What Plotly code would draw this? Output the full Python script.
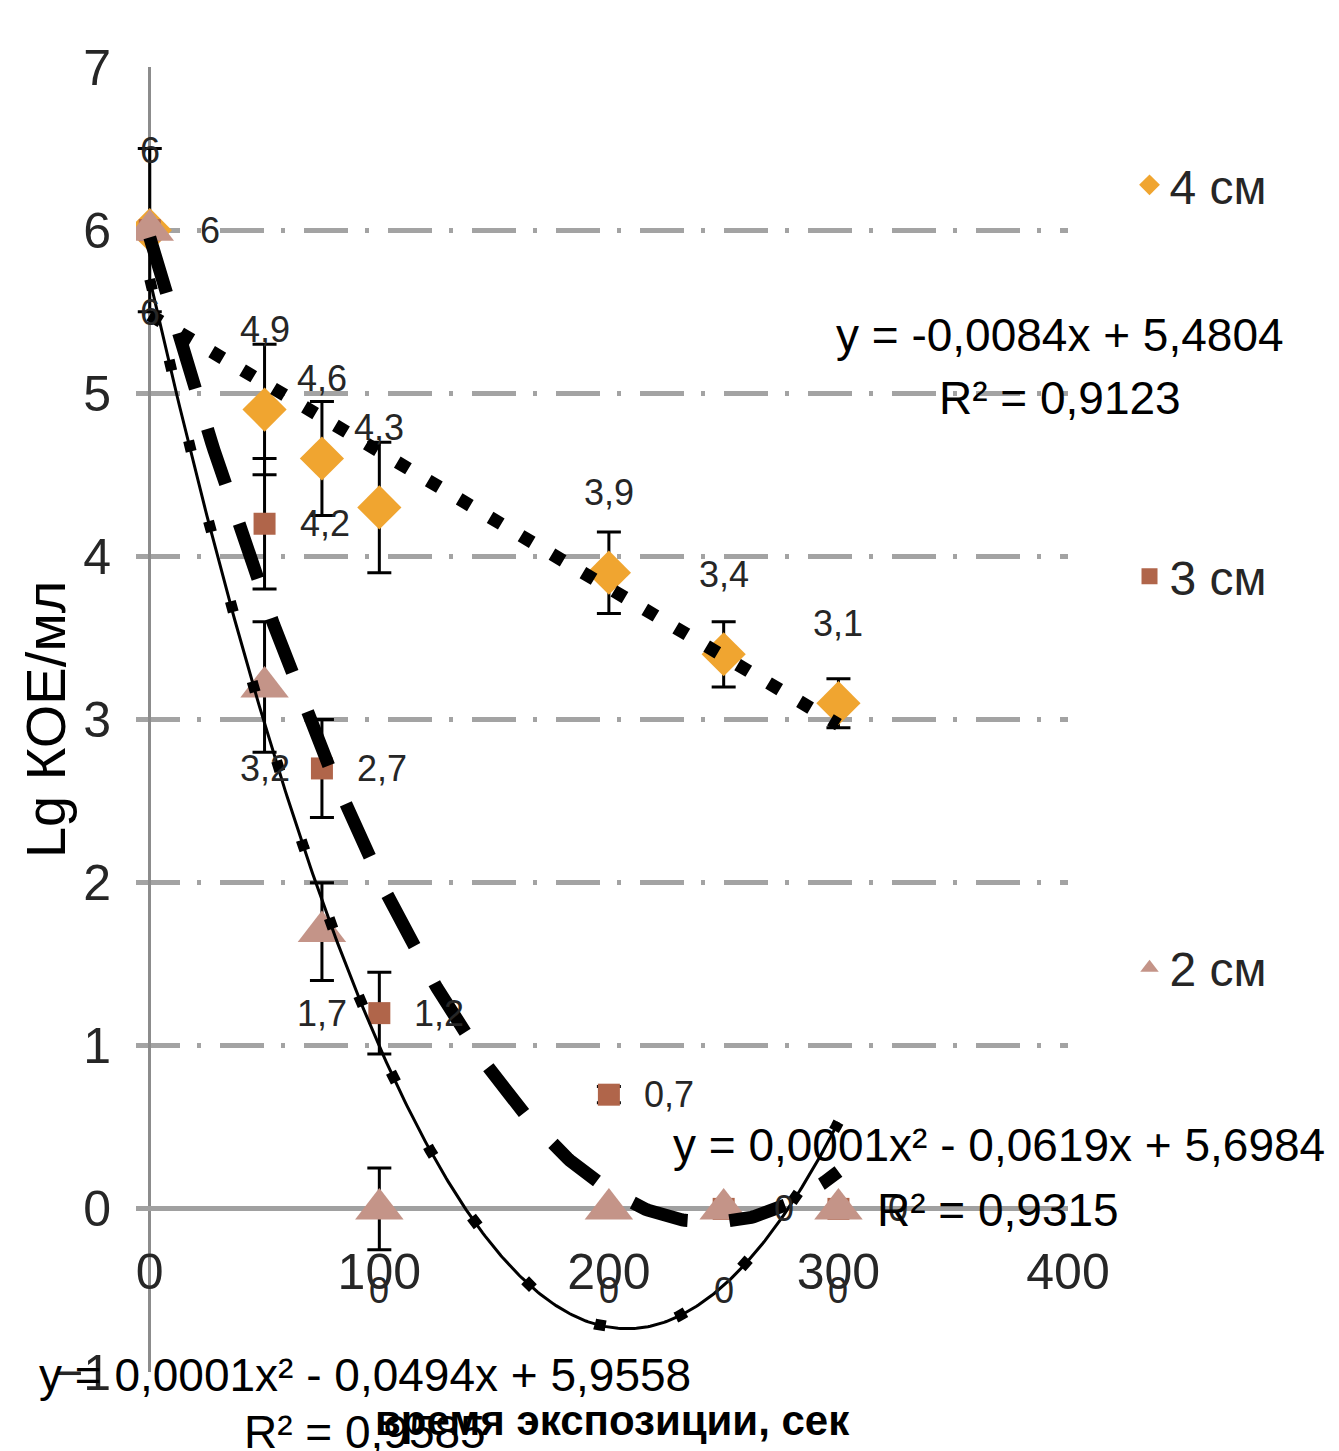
import numpy as np
import plotly.graph_objects as go

# ---- data ----
x_sec = [0, 50, 75, 100, 200, 250, 300]
y_4cm = [6, 4.9, 4.6, 4.3, 3.9, 3.4, 3.1]
err_4cm = [0.5, 0.4, 0.35, 0.4, 0.25, 0.2, 0.15]
y_3cm = [6, 4.2, 2.7, 1.2, 0.7, 0, 0]
err_3cm = [0, 0.4, 0.3, 0.25, 0.05, 0, 0]
y_2cm = [6, 3.2, 1.7, 0, 0, 0, 0]
err_2cm = [0, 0.4, 0.3, 0.25, 0, 0, 0]
series_names = ["4 см", "3 см", "2 см"]
x_ticks = [0, 100, 200, 300, 400]
y_ticks = [-1, 0, 1, 2, 3, 4, 5, 6, 7]
eq_4cm = ["y = -0,0084x + 5,4804", "R² = 0,9123"]
eq_3cm = ["y = 0,0001x² - 0,0494x + 5,9558", "R² = 0,9585"]
eq_2cm = ["y = 0,0001x² - 0,0619x + 5,6984", "R² = 0,9315"]
x_title = "время экспозиции, сек"
y_title = "Lg КОЕ/мл"

FONT = "Liberation Sans, Arial, sans-serif"
TXT = "#262626"

c4, c3, c2 = "#F0A530", "#B0654A", "#C49488"

fig = go.Figure()

def add_series(name, y, err, color, symbol, size):
    fig.add_trace(go.Scatter(
        x=x_sec, y=y, mode="markers", name=name, legendgroup=name,
        marker=dict(symbol=symbol, size=size, color=color, line=dict(width=0)),
        error_y=dict(type="data", array=err, visible=True, color="black",
                     thickness=3, width=12),
    ))

add_series(series_names[0], y_4cm, err_4cm, c4, "diamond", 34)
add_series(series_names[1], y_3cm, err_3cm, c3, "square", 22)
add_series(series_names[2], y_2cm, err_2cm, c2, "triangle-up", 42)

# ---- trendlines fitted from the data ----
xs = np.linspace(min(x_sec), max(x_sec), 301)
p4 = np.polyfit(x_sec, y_4cm, 1)
p3 = np.polyfit(x_sec, y_3cm, 2)
p2 = np.polyfit(x_sec, y_2cm, 2)

fig.add_trace(go.Scatter(x=xs, y=np.polyval(p4, xs), mode="lines", showlegend=False,
                         hoverinfo="skip",
                         line=dict(color="black", width=13, dash="13px,23px")))
fig.add_trace(go.Scatter(x=xs, y=np.polyval(p3, xs), mode="lines", showlegend=False,
                         hoverinfo="skip",
                         line=dict(color="black", width=13, dash="58px,42px")))
fig.add_trace(go.Scatter(x=xs, y=np.polyval(p2, xs), mode="lines", showlegend=False,
                         hoverinfo="skip",
                         line=dict(color="black", width=3)))
fig.add_trace(go.Scatter(x=xs, y=np.polyval(p2, xs), mode="lines", showlegend=False,
                         hoverinfo="skip",
                         line=dict(color="black", width=11, dash="11px,72px")))

# ---- data labels ----
def lab(v):
    return f"{v:g}".replace(".", ",")

annotations = []
for xv, yv in zip(x_sec, y_4cm):
    annotations.append(dict(x=xv, y=yv, xref="x", yref="y", text=lab(yv), showarrow=False,
                            yshift=80, font=dict(family=FONT, size=36, color=TXT)))
for xv, yv in zip(x_sec, y_3cm):
    annotations.append(dict(x=xv, y=yv, xref="x", yref="y", text=lab(yv), showarrow=False,
                            xshift=60, font=dict(family=FONT, size=36, color=TXT)))
for xv, yv in zip(x_sec, y_2cm):
    annotations.append(dict(x=xv, y=yv, xref="x", yref="y", text=lab(yv), showarrow=False,
                            yshift=-82, font=dict(family=FONT, size=36, color=TXT)))

# ---- trendline equations ----
def eq_ann(text, x, y):
    return dict(x=x, y=y, xref="paper", yref="paper", text=text, showarrow=False,
                xanchor="center", yanchor="middle",
                font=dict(family=FONT, size=46, color="black"))

annotations += [
    eq_ann(eq_4cm[0], 0.9914, 0.7946), eq_ann(eq_4cm[1], 0.9914, 0.7464),
    eq_ann(eq_2cm[0], 0.926, 0.174), eq_ann(eq_2cm[1], 0.925, 0.1241),
    eq_ann(eq_3cm[0], 0.2457, -0.0023), eq_ann(eq_3cm[1], 0.2457, -0.046),
]

# ---- axis titles ----
annotations.append(dict(x=0.511, y=-0.0368, xref="paper", yref="paper", text=x_title,
                        showarrow=False, xanchor="center", yanchor="middle",
                        font=dict(family=FONT, size=42, color="black", weight="bold")))
annotations.append(dict(x=-0.0976, y=0.4996, xref="paper", yref="paper", text=y_title,
                        showarrow=False, textangle=-90, xanchor="center", yanchor="middle",
                        font=dict(family=FONT, size=56, color="black")))

fig.update_layout(
    width=1339, height=1451,
    margin=dict(l=136, r=271, t=67, b=79, autoexpand=False),
    paper_bgcolor="white", plot_bgcolor="white",
    showlegend=True,
    legend=dict(x=1.066, y=0.9386, xanchor="left", yanchor="top",
                font=dict(family=FONT, size=48, color=TXT),
                tracegroupgap=326, itemsizing="trace", bgcolor="rgba(0,0,0,0)"),
    annotations=annotations,
    xaxis=dict(range=[-6, 400], tickvals=x_ticks, showgrid=False,
               zeroline=True, zerolinecolor="#8c8c8c", zerolinewidth=3,
               anchor="free", position=0.1241, showline=False, ticks="",
               ticklabelstandoff=28, automargin=False,
               tickfont=dict(family=FONT, size=50, color=TXT)),
    yaxis=dict(range=[-1, 7], tickvals=y_ticks, showgrid=True,
               gridcolor="#a3a3a3", gridwidth=5, griddash="44px,17px,4px,19px",
               zeroline=True, zerolinecolor="#a0a0a0", zerolinewidth=5,
               showline=False, ticks="", ticklabelstandoff=24, automargin=False,
               tickfont=dict(family=FONT, size=50, color=TXT)),
)

fig.write_html("out.html", config={"displayModeBar": False},
               post_script="document.body.style.margin='0px';")
